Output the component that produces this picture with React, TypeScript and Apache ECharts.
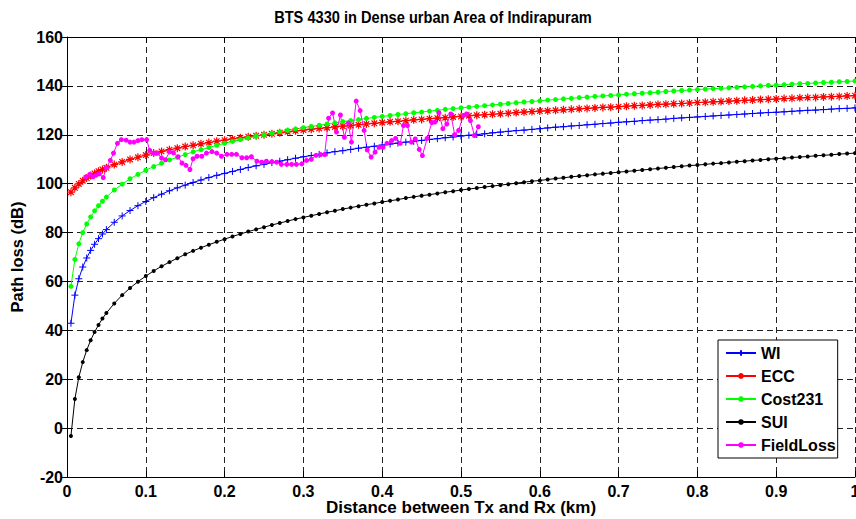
import React, { useEffect, useRef } from "react";
import * as echarts from "echarts";

const TITLE = "BTS 4330 in Dense urban Area of Indirapuram";
const X_NAME = "Distance between Tx and Rx (km)";
const Y_NAME = "Path loss (dB)";
const SERIES_NAMES = ["WI", "ECC", "Cost231", "SUI", "FieldLoss"];

const DIST = [
  0.005, 0.01, 0.015, 0.02, 0.025, 0.03, 0.035, 0.04, 0.045, 0.05,
  0.06, 0.07, 0.08, 0.09, 0.1, 0.11, 0.12, 0.13, 0.14, 0.15,
  0.16, 0.17, 0.18, 0.19, 0.2, 0.21, 0.22, 0.23, 0.24, 0.25,
  0.26, 0.27, 0.28, 0.29, 0.3, 0.31, 0.32, 0.33, 0.34, 0.35,
  0.36, 0.37, 0.38, 0.39, 0.4, 0.41, 0.42, 0.43, 0.44, 0.45,
  0.46, 0.47, 0.48, 0.49, 0.5, 0.51, 0.52, 0.53, 0.54, 0.55,
  0.56, 0.57, 0.58, 0.59, 0.6, 0.61, 0.62, 0.63, 0.64, 0.65,
  0.66, 0.67, 0.68, 0.69, 0.7, 0.71, 0.72, 0.73, 0.74, 0.75,
  0.76, 0.77, 0.78, 0.79, 0.8, 0.81, 0.82, 0.83, 0.84, 0.85,
  0.86, 0.87, 0.88, 0.89, 0.9, 0.91, 0.92, 0.93, 0.94, 0.95,
  0.96, 0.97, 0.98, 0.99, 1.0,
];

const WI = [
  42.9, 54.4, 61.1, 65.9, 69.6, 72.7, 75.2, 77.5, 79.4, 81.2,
  84.2, 86.8, 89.0, 91.0, 92.7, 94.3, 95.7, 97.1, 98.3, 99.4,
  100.5, 101.5, 102.5, 103.4, 104.2, 105.0, 105.8, 106.6, 107.3, 107.9,
  108.6, 109.2, 109.8, 110.4, 111.0, 111.5, 112.0, 112.6, 113.1, 113.5,
  114.0, 114.5, 114.9, 115.3, 115.8, 116.2, 116.6, 117.0, 117.3, 117.7,
  118.1, 118.4, 118.8, 119.1, 119.5, 119.8, 120.1, 120.4, 120.8, 121.1,
  121.4, 121.7, 121.9, 122.2, 122.5, 122.8, 123.1, 123.3, 123.6, 123.8,
  124.1, 124.3, 124.6, 124.8, 125.1, 125.3, 125.5, 125.8, 126.0, 126.2,
  126.4, 126.7, 126.9, 127.1, 127.3, 127.5, 127.7, 127.9, 128.1, 128.3,
  128.5, 128.7, 128.9, 129.1, 129.2, 129.4, 129.6, 129.8, 130.0, 130.1,
  130.3, 130.5, 130.7, 130.8, 131.0,
];

const ECC = [
  96.5, 98.3, 99.9, 101.2, 102.3, 103.3, 104.2, 105.1, 105.8, 106.5,
  107.8, 108.9, 109.9, 110.8, 111.7, 112.5, 113.2, 113.9, 114.5, 115.2,
  115.7, 116.3, 116.8, 117.4, 117.8, 118.3, 118.8, 119.2, 119.6, 120.0,
  120.4, 120.8, 121.2, 121.6, 121.9, 122.3, 122.6, 122.9, 123.2, 123.5,
  123.8, 124.1, 124.4, 124.7, 125.0, 125.3, 125.5, 125.8, 126.1, 126.3,
  126.6, 126.8, 127.0, 127.3, 127.5, 127.8, 128.0, 128.2, 128.4, 128.6,
  128.8, 129.1, 129.3, 129.5, 129.7, 129.8, 130.0, 130.2, 130.4, 130.6,
  130.8, 131.0, 131.2, 131.3, 131.5, 131.7, 131.9, 132.0, 132.2, 132.4,
  132.5, 132.7, 132.8, 133.0, 133.2, 133.3, 133.5, 133.6, 133.8, 133.9,
  134.1, 134.2, 134.4, 134.5, 134.6, 134.8, 134.9, 135.1, 135.2, 135.3,
  135.5, 135.6, 135.7, 135.9, 136.0,
];

const COST231 = [
  58.0, 69.0, 75.4, 80.0, 83.5, 86.4, 88.9, 91.0, 92.8, 94.5,
  97.4, 99.8, 102.0, 103.8, 105.5, 107.0, 108.4, 109.7, 110.8, 111.9,
  113.0, 113.9, 114.8, 115.7, 116.5, 117.3, 118.0, 118.7, 119.4, 120.0,
  120.6, 121.2, 121.8, 122.4, 122.9, 123.4, 123.9, 124.4, 124.9, 125.4,
  125.8, 126.2, 126.7, 127.1, 127.5, 127.9, 128.3, 128.6, 129.0, 129.3,
  129.7, 130.0, 130.4, 130.7, 131.0, 131.3, 131.6, 131.9, 132.2, 132.5,
  132.8, 133.1, 133.4, 133.6, 133.9, 134.2, 134.4, 134.7, 134.9, 135.2,
  135.4, 135.7, 135.9, 136.1, 136.3, 136.6, 136.8, 137.0, 137.2, 137.4,
  137.7, 137.9, 138.1, 138.3, 138.5, 138.7, 138.9, 139.0, 139.2, 139.4,
  139.6, 139.8, 140.0, 140.2, 140.3, 140.5, 140.7, 140.9, 141.0, 141.2,
  141.4, 141.5, 141.7, 141.8, 142.0,
];

const SUI = [
  -3.2, 11.9, 20.8, 27.0, 31.9, 35.9, 39.3, 42.2, 44.8, 47.1,
  51.0, 54.4, 57.3, 59.9, 62.2, 64.3, 66.2, 67.9, 69.5, 71.1,
  72.5, 73.8, 75.0, 76.2, 77.3, 78.4, 79.4, 80.4, 81.3, 82.2,
  83.1, 83.9, 84.7, 85.5, 86.2, 86.9, 87.6, 88.3, 88.9, 89.6,
  90.2, 90.8, 91.4, 91.9, 92.5, 93.0, 93.5, 94.1, 94.6, 95.1,
  95.5, 96.0, 96.5, 96.9, 97.4, 97.8, 98.2, 98.6, 99.0, 99.4,
  99.8, 100.2, 100.6, 101.0, 101.3, 101.7, 102.1, 102.4, 102.8, 103.1,
  103.4, 103.8, 104.1, 104.4, 104.7, 105.0, 105.3, 105.6, 105.9, 106.2,
  106.5, 106.8, 107.1, 107.4, 107.6, 107.9, 108.2, 108.4, 108.7, 109.0,
  109.2, 109.5, 109.7, 110.0, 110.2, 110.4, 110.7, 110.9, 111.1, 111.4,
  111.6, 111.8, 112.1, 112.3, 112.5,
];

const FIELD_DIST = [
  0.024, 0.029, 0.033, 0.037, 0.041, 0.046, 0.05, 0.055, 0.059, 0.064,
  0.069, 0.075, 0.08, 0.085, 0.09, 0.095, 0.101, 0.105, 0.11, 0.115,
  0.12, 0.125, 0.13, 0.135, 0.141, 0.146, 0.151, 0.156, 0.16, 0.165,
  0.171, 0.177, 0.184, 0.19, 0.196, 0.203, 0.209, 0.215, 0.222, 0.228,
  0.234, 0.241, 0.247, 0.253, 0.26, 0.266, 0.272, 0.279, 0.285, 0.291,
  0.298, 0.304, 0.31, 0.316, 0.322, 0.327, 0.332, 0.337, 0.342, 0.347,
  0.352, 0.357, 0.361, 0.367, 0.372, 0.377, 0.381, 0.386, 0.391, 0.396,
  0.401, 0.406, 0.412, 0.417, 0.423, 0.427, 0.432, 0.437, 0.442, 0.447,
  0.451, 0.457, 0.463, 0.467, 0.472, 0.477, 0.482, 0.487, 0.492, 0.497,
  0.503, 0.507, 0.512, 0.517, 0.522,
];

const FIELD_LOSS = [
  102.8, 103.8, 102.8, 103.5, 104.0, 102.5, 106.5, 109.5, 112.5, 116.5,
  118.0, 117.8, 117.0, 117.0, 117.6, 118.0, 118.0, 113.6, 112.5, 112.5,
  110.5, 109.8, 113.0, 112.6, 111.0, 108.4, 107.5, 105.8, 110.2, 111.2,
  111.2, 112.5, 113.1, 112.5, 111.2, 112.0, 112.0, 112.0, 110.6, 110.6,
  111.0, 109.2, 108.8, 109.2, 109.0, 108.8, 107.9, 107.9, 107.9, 107.9,
  108.1, 109.5, 110.0, 111.6, 111.9, 111.9, 126.8, 128.9, 121.1, 128.1,
  119.0, 124.8, 117.0, 133.8, 129.9, 121.8, 113.8, 110.9, 112.9, 114.9,
  114.9, 116.5, 117.6, 118.5, 116.5, 123.8, 123.8, 117.0, 118.3, 114.0,
  111.5, 118.5, 125.0, 125.2, 129.0, 122.5, 124.4, 128.5, 120.0, 121.8,
  127.9, 128.5, 125.8, 119.7, 123.3,
];

const FONT = "'Liberation Sans', Arial, Helvetica, sans-serif";
const PLUS = "path://M5,0L5,10M0,5L10,5";
const STAR = "path://M5,0L5,10M0,5L10,5M1.5,1.5L8.5,8.5M8.5,1.5L1.5,8.5";

function pairs(xs: number[], ys: number[]) {
  return xs.map((x, i) => [x, ys[i]]);
}

export default function App() {
  const ref = useRef<HTMLDivElement>(null);
  useEffect(() => {
    if (!ref.current) return;
    const chart = echarts.init(ref.current, null, { renderer: "svg" });
    const labelStyle = { color: "#000", fontSize: 16, fontWeight: "bold", fontFamily: FONT };
    const gridLine = { show: true, lineStyle: { color: "#222", type: [6, 4], width: 1 } };
    const axisLine = { show: true, onZero: false, lineStyle: { color: "#000", width: 1 } };
    const tick = { show: true, inside: true, length: 6, lineStyle: { color: "#000", width: 1 } };
    const option: any = {
      animation: false,
      backgroundColor: "#fff",
      grid: { left: 67, right: 1, top: 37, bottom: 42, outerBoundsMode: "none", containLabel: false },
      graphic: [
        {
          type: "text",
          x: 433,
          y: 9,
          scaleX: 0.86,
          style: {
            text: TITLE,
            textAlign: "center",
            textVerticalAlign: "top",
            fontSize: 17,
            fontWeight: "bold",
            fontFamily: FONT,
            fill: "#000",
          },
        },
      ],
      xAxis: [
        {
          type: "value",
          position: "bottom",
          min: 0,
          max: 1,
          interval: 0.1,
          axisLine,
          axisTick: tick,
          axisLabel: {
            ...labelStyle,
            margin: 6,
            formatter: (v: number) => String(Number(v.toFixed(1))),
          },
          splitLine: gridLine,
          name: X_NAME,
          nameLocation: "middle",
          nameGap: 22,
          nameMoveOverlap: false,
          nameTextStyle: { ...labelStyle, fontSize: 17 },
        },
        {
          type: "value",
          position: "top",
          min: 0,
          max: 1,
          interval: 0.1,
          axisLine,
          axisTick: tick,
          axisLabel: { show: false },
          splitLine: { show: false },
        },
      ],
      yAxis: [
        {
          type: "value",
          position: "left",
          min: -20,
          max: 160,
          interval: 20,
          axisLine,
          axisTick: tick,
          axisLabel: { ...labelStyle, margin: 4 },
          splitLine: gridLine,
          name: Y_NAME,
          nameLocation: "middle",
          nameGap: 42,
          nameRotate: 90,
          nameMoveOverlap: false,
          nameTextStyle: { ...labelStyle, fontSize: 16.5 },
        },
        {
          type: "value",
          position: "right",
          min: -20,
          max: 160,
          interval: 20,
          axisLine: { show: false },
          axisTick: tick,
          axisLabel: { show: false },
          splitLine: { show: false },
        },
      ],
      legend: {
        orient: "vertical",
        left: 718,
        top: 340,
        backgroundColor: "#fff",
        borderColor: "#000",
        borderWidth: 1,
        borderRadius: 0,
        padding: [5, 2, 5, 7],
        itemWidth: 30,
        itemHeight: 7,
        itemGap: 7,
        textStyle: { ...labelStyle, fontSize: 16 },
        data: SERIES_NAMES,
      },
      series: [
        {
          name: "WI",
          type: "line",
          data: pairs(DIST, WI),
          symbol: PLUS,
          symbolSize: 7,
          lineStyle: { color: "#0000ff", width: 1 },
          itemStyle: { color: "#0000ff", borderColor: "#0000ff", borderWidth: 1 },
        },
        {
          name: "ECC",
          type: "line",
          data: pairs(DIST, ECC),
          symbol: STAR,
          symbolSize: 8,
          lineStyle: { color: "#ff0000", width: 1 },
          itemStyle: { color: "#ff0000", borderColor: "#ff0000", borderWidth: 1.2 },
        },
        {
          name: "Cost231",
          type: "line",
          data: pairs(DIST, COST231),
          symbol: "circle",
          symbolSize: 5,
          lineStyle: { color: "#00ff00", width: 1 },
          itemStyle: { color: "#00ff00", borderWidth: 0 },
        },
        {
          name: "SUI",
          type: "line",
          data: pairs(DIST, SUI),
          symbol: "circle",
          symbolSize: 4,
          lineStyle: { color: "#000000", width: 1 },
          itemStyle: { color: "#000000", borderWidth: 0 },
        },
        {
          name: "FieldLoss",
          type: "line",
          data: pairs(FIELD_DIST, FIELD_LOSS),
          symbol: "circle",
          symbolSize: 5,
          lineStyle: { color: "#ff00ff", width: 1 },
          itemStyle: { color: "#ff00ff", borderWidth: 0 },
        },
      ],
    };
    chart.setOption(option);
    return () => chart.dispose();
  }, []);
  return <div ref={ref} style={{ width: 856, height: 519, position: "absolute", left: 0, top: 0 }} />;
}
